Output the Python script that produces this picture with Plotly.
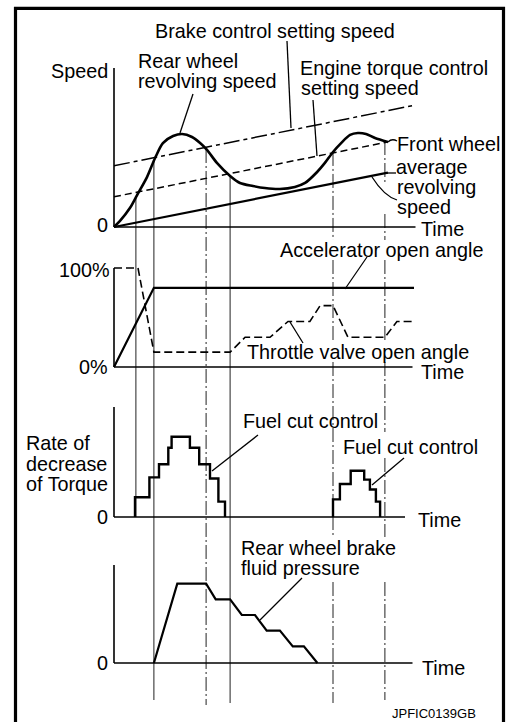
import numpy as np
import plotly.graph_objects as go

# ---------------- data (time in arbitrary units, values in % of each panel's axis) ----------------
event_time = [7.3, 13.3, 30.7, 38.7, 73.0, 90.3]

speed_t = [0, 2, 5.3, 7.7, 11, 13.7, 16.3, 19.7, 22.7, 26, 28.7, 31, 34.3, 38.7, 42, 46.3,
           50.3, 55.3, 60.3, 63.7, 67.7, 70.3, 73, 75.7, 78.7, 81.3, 84, 87, 91.3]
rear_wheel_speed = [0, 3.8, 11.9, 20.1, 31.4, 43.4, 52.8, 57.2, 58.5, 56.6, 52.8, 48.5, 40.3, 32.1,
                    27.7, 25.8, 24.5, 23.9, 25.2, 27.7, 34.6, 40.3, 47.2, 52.8, 57.9, 59.1, 58.5, 56, 53.5]
brake_ctrl_t = [0, 100]
brake_ctrl_speed = [38.5, 76.5]
engine_ctrl_t = [0, 91.3]
engine_ctrl_speed = [19, 53.5]
front_avg_t = [0, 91.3]
front_avg_speed = [0, 34.2]

accel_t = [0, 13.3, 100]
accel_open = [0, 80, 80]
throttle_t = [0, 8, 13.3, 38.7, 43.7, 52, 58, 65.3, 68.7, 73, 78, 90.3, 94.3, 100]
throttle_open = [100, 100, 15, 15, 30, 30, 46, 46, 62, 62, 30, 30, 46, 46]

fuelcut1_t = [7, 7, 11.8, 15, 18.1, 19.2, 25.3, 28.4, 32, 34.8, 37]
fuelcut1_rate = [0, 18, 36, 48, 63, 73, 63, 48, 35, 14, 0]
fuelcut2_t = [73, 73, 75.3, 78.9, 83.4, 85.3, 87.3, 88.7]
fuelcut2_rate = [0, 16, 30, 42, 34, 25, 14, 0]

brake_p_t = [13.3, 21.1, 30.7, 33.9, 38.7, 42.6, 47, 50.9, 55.3, 59.6, 63.3, 67.8]
brake_p = [0, 81, 81, 65, 65, 49, 49, 33, 33, 17, 17, 0]

# ---------------- layout geometry ----------------
W, H = 506, 722
X0, KX = 114, 3.0                      # pixel of t=0, pixels per time unit
PANELS = {                              # axis: (pixel of zero, pixels per unit, axis end time)
    'y': (227, 1.59, 100.5),
    'y2': (367, 0.99, 99.5),
    'y3': (517, 1.10, 97.0),
    'y4': (663, 0.98, 99.5),
}
FS = 19.8
FONT = dict(family='Liberation Sans, Arial, Helvetica, sans-serif', size=FS, color='black')
BLACK = '#000000'


def px(x):
    return x / W


def py(y):
    return 1 - y / H


def yrange(ax):
    oy, ky, _ = PANELS[ax]
    return [(oy - H) / ky, oy / ky]


def to_px_y(ax, v):
    oy, ky, _ = PANELS[ax]
    return oy - ky * v


fig = go.Figure()


def add_line(t, v, ax, width=2.2, dash='solid', shape='linear', smoothing=1.0):
    line = dict(color=BLACK, width=width, dash=dash, shape=shape)
    if shape == 'spline':
        line['smoothing'] = smoothing
    fig.add_trace(go.Scatter(x=t, y=v, yaxis=ax, mode='lines', line=line,
                             hoverinfo='skip', showlegend=False))


# speed panel
add_line(brake_ctrl_t, brake_ctrl_speed, 'y', width=1.5, dash='16px,4px,4px,4px')
add_line(engine_ctrl_t, engine_ctrl_speed, 'y', width=1.5, dash='7px,4px')
add_line(front_avg_t, front_avg_speed, 'y', width=2.2)
add_line(speed_t, rear_wheel_speed, 'y', width=2.6, shape='spline', smoothing=0.8)
# throttle panel
add_line(accel_t, accel_open, 'y2', width=2.2)
add_line(throttle_t, throttle_open, 'y2', width=1.6, dash='8px,4px')
# torque panel
add_line(fuelcut1_t, fuelcut1_rate, 'y3', width=2.4, shape='hv')
add_line(fuelcut2_t, fuelcut2_rate, 'y3', width=2.4, shape='hv')
# brake pressure panel
add_line(brake_p_t, brake_p, 'y4', width=2.2)

shapes = []

# axes (L shaped)
for ax, (oy, ky, tend) in PANELS.items():
    shapes.append(dict(type='line', xref='x', yref=ax, x0=0, x1=0, y0=0, y1=100,
                       line=dict(color=BLACK, width=1.6)))
    shapes.append(dict(type='line', xref='x', yref=ax, x0=0, x1=tend, y0=0, y1=0,
                       line=dict(color=BLACK, width=1.6)))

# event marker lines
marker_top = np.interp(event_time, speed_t, rear_wheel_speed)
marker_bottom = [517, 700, 705, 703, 703, 700]
marker_dash = ['solid', 'solid', '14px,3px,2px,3px', 'solid', '14px,3px,2px,3px', '14px,3px,2px,3px']
marker_gaps = [[], [], [], [], [(240, 260), (343, 362), (537, 582)],
               [(182, 214), (240, 260), (343, 362), (432, 458), (537, 582)]]
for t, top, bot, dash, gaps in zip(event_time, marker_top, marker_bottom, marker_dash, marker_gaps):
    y_start = to_px_y('y', top)
    segs = []
    cur = y_start
    for g0, g1 in gaps:
        segs.append((cur, g0))
        cur = g1
    segs.append((cur, bot))
    for a, b in segs:
        shapes.append(dict(type='line', xref='x', yref='paper', x0=t, x1=t, y0=py(a), y1=py(b),
                           layer='below', line=dict(color='#222222', width=1.0, dash=dash)))

# leader lines (pixel positions)
leaders = [
    ((287, 41), (291, 128)),      # brake control setting speed
    ((193, 94), (180, 133)),      # rear wheel
    ((313, 100), (317, 156)),     # engine torque control
    ((387, 173), (396, 173)),     # front wheel -> average
    ((367, 257), (345, 289)),     # accelerator
    ((303, 343), (290, 322)),     # throttle
    ((258, 435), (212, 471)),     # fuel cut 1
    ((404, 458), (372, 485)),     # fuel cut 2
    ((302, 578), (260, 620)),     # rear wheel brake fluid pressure
]
for (x0, y0), (x1, y1) in leaders:
    shapes.append(dict(type='line', xref='paper', yref='paper', x0=px(x0), y0=py(y0),
                       x1=px(x1), y1=py(y1), line=dict(color=BLACK, width=1.3)))

# curved leaders
def qpath(p0, c, p1):
    return 'M {},{} Q {},{} {},{}'.format(px(p0[0]), py(p0[1]), px(c[0]), py(c[1]), px(p1[0]), py(p1[1]))

shapes.append(dict(type='path', xref='paper', yref='paper', path=qpath((372, 177), (384, 196), (397, 200)),
                   line=dict(color=BLACK, width=1.3)))
shapes.append(dict(type='path', xref='paper', yref='paper', path=qpath((388, 142), (392, 138), (397, 141)),
                   line=dict(color=BLACK, width=1.3)))

# frame
shapes.append(dict(type='path', xref='paper', yref='paper',
                   path='M {},{} L {},{} L {},{} L {},{}'.format(px(15.5), py(740), px(15.5), py(8.3),
                                                                px(503.5), py(8.3), px(503.5), py(740)),
                   line=dict(color=BLACK, width=3.2)))

# texts: (text, x, y, xanchor, size)
texts = [
    ('Brake control setting speed', 154, 31, 'left', FS),
    ('Rear wheel', 137, 61, 'left', FS),
    ('revolving speed', 137, 81, 'left', FS),
    ('Speed', 109, 71, 'right', FS),
    ('Engine torque control', 299, 68, 'left', FS),
    ('setting speed', 300, 88, 'left', FS),
    ('Front wheel', 396, 144, 'left', FS),
    ('average', 395, 167, 'left', FS),
    ('revolving', 396, 187, 'left', FS),
    ('speed', 396, 207, 'left', FS),
    ('0', 109, 225, 'right', FS),
    ('Time', 420, 229, 'left', FS),
    ('Accelerator open angle', 279, 250, 'left', FS),
    ('100%', 111, 270, 'right', FS),
    ('Throttle valve open angle', 246, 352, 'left', FS),
    ('0%', 109, 367, 'right', FS),
    ('Time', 420, 372, 'left', FS),
    ('Fuel cut control', 242, 421, 'left', FS),
    ('Fuel cut control', 342, 447, 'left', FS),
    ('Rate of', 25, 443, 'left', FS),
    ('decrease', 25, 463.5, 'left', FS),
    ('of Torque', 25, 484, 'left', FS),
    ('0', 109, 517, 'right', FS),
    ('Time', 417, 520, 'left', FS),
    ('Rear wheel brake', 240, 548, 'left', FS),
    ('fluid pressure', 240, 568, 'left', FS),
    ('0', 109, 663, 'right', FS),
    ('Time', 421, 668, 'left', FS),
    ('JPFIC0139GB', 391, 713, 'left', 13),
]
annotations = []
for txt, x, y, xa, size in texts:
    f = dict(FONT)
    f['size'] = size
    annotations.append(dict(text=txt, x=px(x), y=py(y), xref='paper', yref='paper',
                            xanchor=xa, yanchor='middle', showarrow=False, font=f,
                            borderpad=0))

layout = dict(
    width=W, height=H, margin=dict(l=0, r=0, t=0, b=0, pad=0),
    paper_bgcolor='white', plot_bgcolor='white', showlegend=False,
    xaxis=dict(range=[-X0 / KX, (W - X0) / KX], visible=False, domain=[0, 1], fixedrange=True),
    shapes=shapes, annotations=annotations,
)
for i, ax in enumerate(PANELS):
    key = 'yaxis' if ax == 'y' else 'yaxis' + ax[1:]
    d = dict(range=yrange(ax), visible=False, domain=[0, 1], fixedrange=True)
    if ax != 'y':
        d['overlaying'] = 'y'
    layout[key] = d
fig.update_layout(**layout)

fig.write_html("out.html", config={'displayModeBar': False, 'staticPlot': True},
               post_script="document.body.style.margin='0';document.body.style.overflow='hidden';")
